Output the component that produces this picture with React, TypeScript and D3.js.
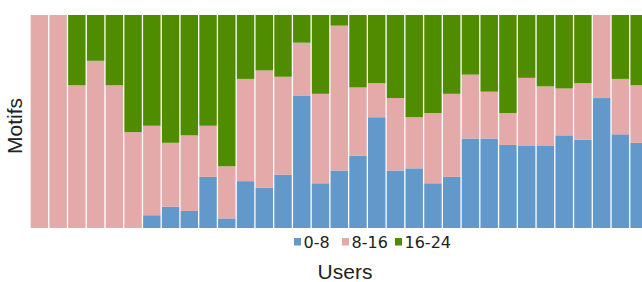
import React, { useEffect, useRef } from 'react';
import * as d3 from 'd3';

// one entry per user, share of motifs (%) in each time bucket
const users = d3.range(1, 34).map(i => `U${i}`);
const bucketKeys = ['0-8', '8-16', '16-24'];
const hours0to8 = [0, 0, 0, 0, 0, 0, 6, 10, 8, 24, 4.5, 22, 19, 25, 62, 21, 27, 34, 52, 27, 28, 21, 24, 42, 42, 39, 38.5, 38.5, 43.5, 41.5, 61, 44, 40];
const hours8to16 = [100, 100, 67, 78.5, 67, 45, 42, 30, 35.5, 24, 24.5, 48, 55, 46, 25, 42, 68, 32, 16, 34, 24, 33, 39, 30, 22, 15, 32, 28, 22, 26.5, 39, 26, 27];
const hours16to24 = [0, 0, 33, 21.5, 33, 55, 52, 60, 56.5, 52, 71, 30, 26, 29, 13, 37, 5, 34, 32, 39, 48, 46, 37, 28, 36, 46, 29.5, 33.5, 34.5, 32, 0, 30, 33];
const bucketColors = ['#6298CA', '#E4A9A9', '#4F8C00'];

export default function App() {
  const svgRef = useRef<SVGSVGElement>(null);

  useEffect(() => {
    if (!svgRef.current) return;
    const width = 642;
    const height = 282;
    const top = 15;
    const bottom = 228;

    const svg = d3.select(svgRef.current);
    svg.selectAll('*').remove();
    svg.attr('width', width).attr('height', height);

    const rows = users.map((u, i) => ({
      user: u,
      '0-8': hours0to8[i],
      '8-16': hours8to16[i],
      '16-24': hours16to24[i],
    }));

    const series = d3.stack<any>().keys(bucketKeys)(rows);

    const x = d3.scaleBand<string>()
      .domain(users)
      .range([30, 648.5])
      .paddingInner(0.07)
      .paddingOuter(0.035);

    const y = d3.scaleLinear().domain([0, 100]).range([bottom, top]);

    const color = d3.scaleOrdinal<string>().domain(bucketKeys).range(bucketColors);

    svg.append('g')
      .selectAll('g')
      .data(series)
      .enter()
      .append('g')
      .attr('fill', d => color(d.key))
      .selectAll('rect')
      .data(d => d)
      .enter()
      .append('rect')
      .attr('x', (d: any) => x(d.data.user)!)
      .attr('y', d => y(d[1]))
      .attr('width', x.bandwidth())
      .attr('height', d => Math.max(0, y(d[0]) - y(d[1])));

    // y axis title
    svg.append('text')
      .attr('transform', `translate(22,126) rotate(-90)`)
      .attr('text-anchor', 'middle')
      .style('font-family', '"Liberation Sans", Arial, sans-serif')
      .style('font-size', '21px')
      .style('fill', '#222')
      .text('Motifs');

    // x axis title
    svg.append('text')
      .attr('x', 345)
      .attr('y', 279)
      .attr('text-anchor', 'middle')
      .style('font-family', '"Liberation Sans", Arial, sans-serif')
      .style('font-size', '21px')
      .style('fill', '#222')
      .text('Users');

    // legend
    const legendX = [294, 342, 395];
    const legend = svg.append('g');
    bucketKeys.forEach((k, i) => {
      legend.append('rect')
        .attr('x', legendX[i])
        .attr('y', 238)
        .attr('width', 7)
        .attr('height', 7.5)
        .attr('fill', color(k));
      legend.append('text')
        .attr('x', legendX[i] + 9.5)
        .attr('y', 247.5)
        .style('font-family', '"DejaVu Sans", sans-serif')
        .style('font-size', '16px')
        .style('fill', '#222')
        .text(k);
    });
  }, []);

  return (
    <div style={{ position: 'fixed', left: 0, top: 0, width: 642, height: 282, overflow: 'hidden', background: '#fff' }}>
      <svg ref={svgRef} style={{ display: 'block' }}></svg>
    </div>
  );
}
